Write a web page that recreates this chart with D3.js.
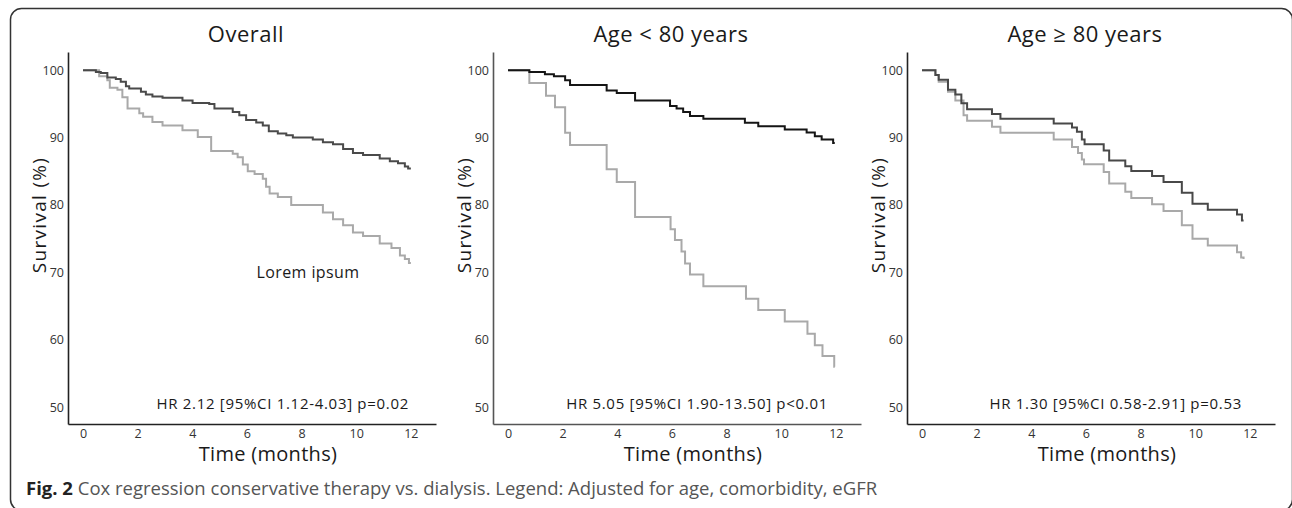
<!DOCTYPE html>
<html lang="en">
<head>
    <meta charset="UTF-8">
    <title>Cox regression conservative therapy vs. dialysis</title>
    <script src="https://d3js.org/d3.v7.min.js"></script>
    <style>
        body { margin: 0; background: #fff; }
        svg { display: block; font-family: "Open Sans", sans-serif; }
    </style>
</head>
<body>
    <script>
        // tick values shared by the three panels
        var xTicks = [0, 2, 4, 6, 8, 10, 12];
        var yTicks = [50, 60, 70, 80, 90, 100];

        var panelTitles = ['Overall', 'Age < 80 years', 'Age \u2265 80 years'];
        var hrLabels = [
            'HR 2.12 [95%CI 1.12-4.03] p=0.02',
            'HR 5.05 [95%CI 1.90-13.50] p<0.01',
            'HR 1.30 [95%CI 0.58-2.91] p=0.53'
        ];

        // [month, survival %] -- survival drops to the value at that month
        var overallDialysis = [[0,100],[0.47,99.75],[0.65,99.6],[0.89,98.9],[1.2,98.7],[1.38,98.3],[1.57,97.6],[1.69,97.3],[2.12,96.8],[2.3,96.4],[2.54,96.1],[2.91,95.9],[3.64,95.5],[4.01,95.15],[4.62,95.0],[4.81,94.3],[5.48,93.8],[5.72,93.3],[5.97,92.6],[6.34,92.25],[6.58,91.8],[6.8,90.95],[7.13,90.6],[7.44,90.35],[7.68,90.0],[8.41,89.7],[8.78,89.3],[9.15,89.0],[9.52,88.3],[9.88,87.7],[10.25,87.4],[10.86,86.9],[11.23,86.5],[11.53,86.2],[11.78,85.7],[11.9,85.4],[12.0,85.4]];
        var overallConservative = [[0,100],[0.59,99.1],[0.89,98.5],[0.98,97.4],[1.26,97.1],[1.44,96.0],[1.63,94.3],[2.06,93.6],[2.2,93.1],[2.54,92.3],[2.91,91.8],[3.64,91.1],[4.2,90.1],[4.69,88.0],[5.48,87.6],[5.66,87.1],[5.85,86.0],[6.03,85.0],[6.28,84.6],[6.58,83.9],[6.7,82.7],[6.83,81.7],[7.13,81.2],[7.62,80.0],[8.78,78.9],[9.15,77.9],[9.52,77.0],[9.88,75.9],[10.25,75.4],[10.86,74.3],[11.29,73.6],[11.6,72.5],[11.78,72.0],[11.93,71.4],[12.0,71.4]];

        var youngDialysis = [[0,100],[0.78,99.75],[1.35,99.4],[1.68,99.1],[2.09,98.5],[2.27,97.8],[3.61,97.0],[3.98,96.6],[4.65,95.5],[5.93,94.7],[6.17,94.3],[6.41,93.8],[6.66,93.2],[7.15,92.8],[8.67,92.2],[9.16,91.7],[10.13,91.2],[10.93,90.75],[11.23,90.2],[11.48,89.7],[11.9,89.2],[11.96,89.2]];
        var youngConservative = [[0,100],[0.78,98.1],[1.39,96.2],[1.72,94.5],[2.09,90.7],[2.27,88.9],[3.61,85.3],[3.98,83.4],[4.65,78.2],[5.95,76.4],[6.11,74.8],[6.35,73.1],[6.48,71.3],[6.66,69.7],[7.15,67.95],[8.71,66.1],[9.16,64.4],[10.13,62.7],[10.96,60.9],[11.23,59.2],[11.51,57.6],[11.94,56.0],[11.96,56.0]];

        var oldDialysis = [[0,100],[0.49,99.3],[0.61,98.6],[0.95,97.1],[1.22,96.4],[1.44,95.1],[1.65,94.2],[2.56,93.5],[2.87,92.8],[4.82,92.1],[5.49,91.5],[5.67,90.85],[5.85,89.7],[5.95,89.0],[6.65,88.1],[6.85,86.6],[7.44,85.75],[7.66,85.05],[8.42,84.3],[8.84,83.4],[9.51,81.8],[9.9,80.2],[10.46,79.3],[11.53,78.6],[11.71,77.7],[11.77,77.7]];
        var oldConservative = [[0,100],[0.49,99.3],[0.61,98.3],[0.95,96.8],[1.22,95.5],[1.52,93.3],[1.65,92.5],[2.56,91.6],[2.87,90.7],[4.82,89.7],[5.49,88.6],[5.71,87.7],[5.85,86.75],[5.93,86.05],[6.65,84.9],[6.85,83.2],[7.44,81.95],[7.66,81.05],[8.42,80.1],[8.84,79.1],[9.51,77.0],[9.9,75.0],[10.46,74.0],[11.53,73.0],[11.68,72.2],[11.77,72.0]];

        var width = 1292;
        var height = 508;

        var panels = [
            { left: 68,  dark: overallDialysis, light: overallConservative, darkColor: '#4a4a4a', note: 'Lorem ipsum' },
            { left: 493, dark: youngDialysis,   light: youngConservative,   darkColor: '#151515' },
            { left: 907, dark: oldDialysis,     light: oldConservative,     darkColor: '#484848' }
        ];

        var svg = d3.select('body')
                    .append('svg')
                    .attr('width', width)
                    .attr('height', height);

        // rounded frame, bottom edge runs off the page
        svg.append('rect')
           .attr('x', 10.5)
           .attr('y', 8.5)
           .attr('width', 1282)
           .attr('height', 502)
           .attr('rx', 11)
           .attr('fill', 'none')
           .attr('stroke', '#333')
           .attr('stroke-width', 1.5);

        var x = d3.scaleLinear().domain([-0.55, 12.92]).range([0, 368]);
        var y = d3.scaleLinear().domain([47.5, 102.7]).range([424, 52]);

        var line = d3.line()
                     .x(function(d) { return x(d[0]); })
                     .y(function(d) { return y(d[1]); })
                     .curve(d3.curveStepAfter);

        // small helper, the reference type is wider than Open Sans
        function label(g, txt, size, spacing) {
            return g.append('text')
                    .style('font-size', size + 'px')
                    .style('letter-spacing', spacing + 'px')
                    .attr('fill', '#1a1a1a')
                    .text(txt);
        }

        panels.forEach(function(p, i) {
            var g = svg.append('g').attr('transform', 'translate(' + p.left + ',0)');

            var yAxis = g.append('g')
                         .call(d3.axisLeft(y).tickValues(yTicks).tickSize(0).tickPadding(4));
            var xAxis = g.append('g')
                         .attr('transform', 'translate(0,424)')
                         .call(d3.axisBottom(x).tickValues(xTicks).tickSize(0).tickPadding(5));

            [yAxis, xAxis].forEach(function(a) {
                a.select('.domain').attr('stroke', i == 1 ? '#555' : '#222').attr('stroke-width', 1.6);
                a.selectAll('text')
                 .attr('fill', '#333')
                 .style('font-size', '12.5px')
                 .style('font-family', '"Open Sans", sans-serif');
            });

            g.append('path')
             .datum(p.light)
             .attr('d', line)
             .attr('fill', 'none')
             .attr('stroke', '#a9a9a9')
             .attr('stroke-width', 2);

            g.append('path')
             .datum(p.dark)
             .attr('d', line)
             .attr('fill', 'none')
             .attr('stroke', p.darkColor)
             .attr('stroke-width', 2);

            label(g, panelTitles[i], 22, 0.5)
                .attr('x', 178)
                .attr('y', 42)
                .attr('text-anchor', 'middle');

            label(g, 'Survival (%)', 19, 1.3)
                .attr('transform', 'translate(-22,215) rotate(-90)')
                .attr('text-anchor', 'middle');

            label(g, 'Time (months)', 20, 0.3)
                .attr('x', 200)
                .attr('y', 461)
                .attr('text-anchor', 'middle');

            label(g, hrLabels[i], 15, 0.7)
                .attr('x', i == 0 ? 341 : 335)
                .attr('y', 409)
                .attr('text-anchor', 'end');

            if (p.note) {
                label(g, p.note, 16, 0.4)
                    .attr('x', 240)
                    .attr('y', 278)
                    .attr('text-anchor', 'middle');
            }
        });

        var caption = svg.append('text')
                         .attr('x', 26)
                         .attr('y', 495)
                         .style('font-size', '18.5px');
        caption.append('tspan').attr('font-weight', 'bold').attr('fill', '#222').text('Fig. 2');
        caption.append('tspan').attr('fill', '#555')
               .text(' Cox regression conservative therapy vs. dialysis. Legend: Adjusted for age, comorbidity, eGFR');
    </script>
</body>
</html>
